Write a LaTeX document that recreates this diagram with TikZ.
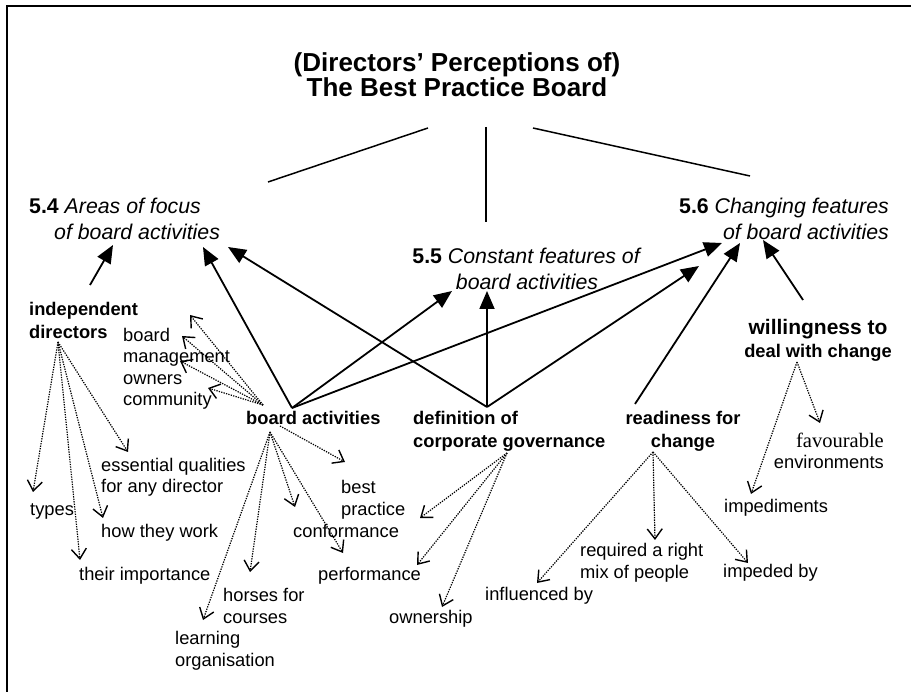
\documentclass[tikz,border=0pt]{standalone}
\usepackage{fontspec}
\setmainfont{Liberation Sans}
\newfontfamily\serifface{Liberation Serif}
\usetikzlibrary{arrows.meta}

\tikzset{
  lbl/.style={inner sep=0pt, align=left, font=\fontsize{18.3}{21.5}\selectfont},
  blbl/.style={lbl, font=\fontsize{18.3}{23}\selectfont\bfseries},
  head/.style={inner sep=0pt, font=\fontsize{21.3}{26}\selectfont},
  link/.style={line width=1.8pt, -{Triangle[length=18pt,width=15pt]}},
  tie/.style={line width=1.5pt},
  sub/.style={line width=1.2pt, dash pattern=on 1.3pt off 1.2pt,
    -{Straight Barb[length=10pt,width=15pt,line width=1.4pt]}}
}

\begin{document}
\begin{tikzpicture}[x=1pt,y=-1pt]
\useasboundingbox (0,0) rectangle (911,692);

% page frame (top and left edges)
\draw[line width=2pt] (7,692) -- (7,6) -- (911,6);

% title (anchor base = baseline of the last line)
\node[inner sep=0pt, align=center, anchor=base,
      font=\fontsize{26}{25}\selectfont\bfseries] (title) at (457,97)
  {(Directors' Perceptions of)\\The Best Practice Board};

% section headings
\node[head, align=left, anchor=base west] (s54) at (29,240)
  {\textbf{5.4} \textit{Areas of focus}\\\hspace*{25pt}\textit{of board activities}};
\node[head, align=center, anchor=base] (s55) at (527,290)
  {\textbf{5.5} \textit{Constant features of}\\\textit{board activities}};
\node[head, align=right, anchor=base east] (s56) at (889,240)
  {\textbf{5.6} \textit{Changing features}\\\textit{of board activities}};

% ties from the title to the three headings
\coordinate (tL) at (428,128); \coordinate (hL) at (268,182);
\coordinate (tM) at (486,127); \coordinate (hM) at (486,222);
\coordinate (tR) at (533,128); \coordinate (hR) at (750,176);
\draw[tie] (tL) -- (hL);
\draw[tie] (tM) -- (hM);
\draw[tie] (tR) -- (hR);

% themes
\node[blbl, anchor=base west] (ind) at (29,339) {independent\\directors};
\node[lbl, anchor=base west] (stake) at (123,406) {board\\management\\owners\\community};
\node[blbl, anchor=base west] (ba) at (246,425) {board activities};
\node[blbl, anchor=base west] (def) at (413,448) {definition of\\corporate governance};
\node[blbl, align=center, anchor=base] (rdy) at (683,448) {readiness for\\change};
\node[inner sep=0pt, align=center, anchor=base,
      font=\fontsize{18.3}{23}\selectfont\bfseries] (will) at (818,358)
  {{\fontsize{21}{23}\selectfont willingness to}\\deal with change};

% sub-themes
\node[lbl, align=right, anchor=base east] (fav) at (884,469)
  {{\serifface\fontsize{20.5}{21.5}\selectfont favourable}\\environments};
\node[lbl, anchor=base west] (imped) at (724,513) {impediments};
\node[lbl, anchor=base west] (ess) at (101,493) {essential qualities\\for any director};
\node[lbl, anchor=base west] (types) at (30,516) {types};
\node[lbl, anchor=base west] (how) at (101,537) {how they work};
\node[lbl, anchor=base west] (impt) at (79,580) {their importance};
\node[lbl, anchor=base west] (best) at (341,515) {best\\practice};
\node[lbl, anchor=base west] (conf) at (293,537) {conformance};
\node[lbl, anchor=base west] (perf) at (318,580) {performance};
\node[lbl, anchor=base west] (horse) at (223,623) {horses for\\courses};
\node[lbl, anchor=base west] (learn) at (175,666) {learning\\organisation};
\node[lbl, anchor=base west] (own) at (389,623) {ownership};
\node[lbl, anchor=base west] (req) at (580,578) {required a right\\mix of people};
\node[lbl, anchor=base west] (infl) at (485,600) {influenced by};
\node[lbl, anchor=base west] (impby) at (723,577) {impeded by};

% hubs where connectors leave the themes
\coordinate (indUp) at (90,285);
\coordinate (indDn) at (58,342);
\coordinate (baUp) at (292,408);
\coordinate (baL) at (263,405);
\coordinate (baDn) at (270,432);
\coordinate (baR) at (280,426);
\coordinate (defUp) at (487,407);
\coordinate (defDn) at (507,453);
\coordinate (rdyUp) at (635,404);
\coordinate (rdyDn) at (653,452);
\coordinate (willUp) at (803,300);
\coordinate (willDn) at (797,362);

% arrow ends at the headings
\coordinate (s54a) at (113,245);
\coordinate (s54b) at (203,247);
\coordinate (s54c) at (228,247);
\coordinate (s55a) at (452,291);
\coordinate (s55b) at (487,291);
\coordinate (s56a) at (722,243);
\coordinate (s56b) at (699,266);
\coordinate (s56c) at (740,243);
\coordinate (s56d) at (763,240);

% themes feeding the headings
\draw[link] (indUp) -- (s54a);
\draw[link] (baUp) -- (s54b);
\draw[link] (defUp) -- (s54c);
\draw[link] (baUp) -- (s55a);
\draw[link] (defUp) -- (s55b);
\draw[link] (baUp) -- (s56a);
\draw[link] (defUp) -- (s56b);
\draw[link] (rdyUp) -- (s56c);
\draw[link] (willUp) -- (s56d);

% independent directors
\draw[sub] (indDn) -- (33,492);
\draw[sub] (indDn) -- (80,560);
\draw[sub] (indDn) -- (103,518);
\draw[sub] (indDn) -- (128,452);

% board activities: stakeholders
\draw[sub] (baL) -- (190,315);
\draw[sub] (baL) -- (182,336);
\draw[sub] (baL) -- (180,361);
\draw[sub] (baL) -- (208,388);

% board activities: sub-themes
\draw[sub] (baDn) -- (203,620);
\draw[sub] (baDn) -- (250,572);
\draw[sub] (baDn) -- (295,507);
\draw[sub] (baDn) -- (343,553);
\draw[sub] (baR) -- (345,462);

% definition of corporate governance
\draw[sub] (defDn) -- (420,518);
\draw[sub] (defDn) -- (417,565);
\draw[sub] (defDn) -- (442,607);

% readiness for change
\draw[sub] (rdyDn) -- (537,583);
\draw[sub] (rdyDn) -- (655,540);
\draw[sub] (rdyDn) -- (748,563);

% willingness to deal with change
\draw[sub] (willDn) -- (820,423);
\draw[sub] (willDn) -- (751,494);
\end{tikzpicture}
\end{document}
